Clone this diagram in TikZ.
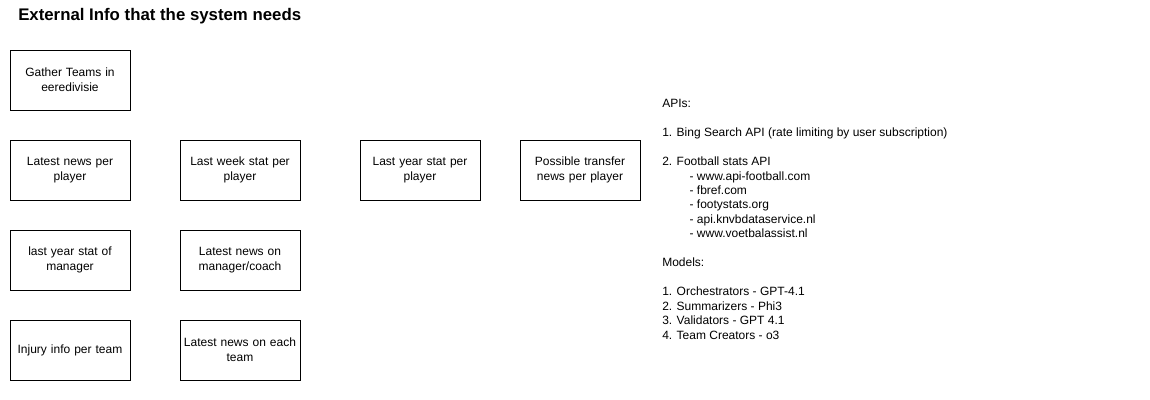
\documentclass[tikz,border=0pt]{standalone}
\usepackage{fontspec}
\setmainfont{Liberation Sans}
\begin{document}
\begin{tikzpicture}[x=0.75pt,y=-0.75pt,
  infobox/.style={draw=black,line width=0.75pt,minimum width=90pt,minimum height=45pt,
    inner sep=0pt,align=center,text width=88pt,font=\fontsize{9}{11.25}\selectfont},
  notes/.style={anchor=north west,inner sep=0pt,align=left,font=\fontsize{9}{10.85}\selectfont}]
\useasboundingbox (0,0) rectangle (1150,400);
\node[anchor=base west,inner sep=0pt,font=\fontsize{12.6}{14}\selectfont\bfseries] (title) at (18,20.5) {External Info that the system needs};
\node[infobox] (teams) at (70,80) {Gather Teams in\\eeredivisie};
\node[infobox] (newsplayer) at (70,170) {Latest news per\\player};
\node[infobox] (weekstat) at (240,170) {Last week stat per\\player};
\node[infobox] (yearstat) at (420,170) {Last year stat per\\player};
\node[infobox] (transfer) at (580,170) {Possible transfer\\news per player};
\node[infobox] (manager) at (70,260) {last year stat of\\manager};
\node[infobox] (coach) at (240,260) {Latest news on\\manager/coach};
\node[infobox] (injury) at (70,350) {Injury info per team};
\node[infobox] (teamnews) at (240,350) {Latest news on each\\team};
\node[notes] (apis) at (662,99.2) {APIs:\\
\mbox{}\\
1. Bing Search API (rate limiting by user subscription)\\
\mbox{}\\
2. Football stats API\\
\hspace*{20.5pt}- www.api-football.com\\
\hspace*{20.5pt}- fbref.com\\
\hspace*{20.5pt}- footystats.org\\
\hspace*{20.5pt}- api.knvbdataservice.nl\\
\hspace*{20.5pt}- www.voetbalassist.nl\\
\mbox{}\\
Models:\\
\mbox{}\\
1. Orchestrators - GPT-4.1\\
2. Summarizers - Phi3\\
3. Validators - GPT 4.1\\
4. Team Creators - o3};
\end{tikzpicture}
\end{document}
